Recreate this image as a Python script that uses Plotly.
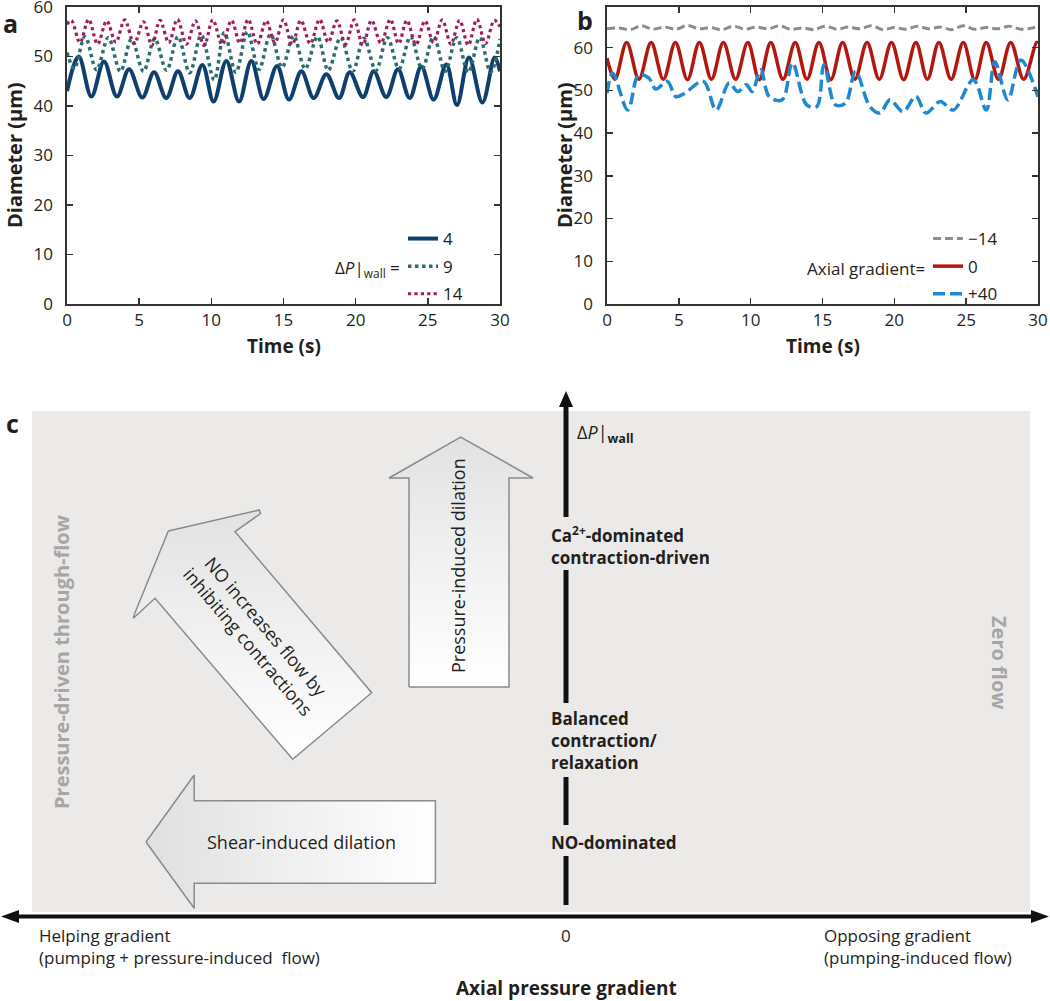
import plotly.graph_objects as go

W, H = 1050, 1001
FONT = "Open Sans"
TXT = "#231F20"

# ---------------- Panel a data (time s, diameter um) ----------------
a4_t = [0, 0.81, 1.69, 2.56, 3.46, 4.30, 5.22, 6.03, 6.88, 7.69, 8.50, 9.38, 10.16, 11.04, 11.92,
        12.77, 13.63, 14.55, 15.38, 16.24, 17.09, 17.97, 18.85, 19.59, 20.51, 21.25, 22.12, 22.93,
        23.74, 24.55, 25.40, 26.28, 27.02, 27.85, 28.78, 29.63, 30]
a4_d = [43.0, 50.0, 41.9, 49.0, 41.9, 47.4, 41.7, 46.8, 41.6, 47.0, 41.6, 48.3, 40.9, 49.1, 40.9,
        49.1, 41.4, 48.1, 41.3, 47.0, 41.6, 46.4, 41.6, 46.8, 41.8, 47.0, 41.8, 47.4, 41.6, 48.0,
        41.3, 48.4, 40.2, 49.8, 40.7, 49.8, 47.0]

a9_t = [0, 0.5, 1.25, 2.05, 2.86, 3.7, 4.47, 5.3, 6.08, 6.9, 7.69, 8.5, 9.3, 10.2, 10.9, 11.7,
        12.5, 13.3, 14.1, 14.9, 15.7, 16.5, 17.35, 18.1, 18.96, 19.8, 20.57, 21.4, 22.2, 23.0,
        23.8, 24.6, 25.4, 26.2, 27.0, 27.8, 28.6, 29.35, 30]
a9_d = [50.8, 47.6, 54.0, 47.3, 53.8, 47.0, 53.5, 47.0, 53.6, 47.2, 54.0, 46.7, 54.3, 45.3, 54.8,
        46.8, 55.0, 47.4, 54.5, 47.8, 54.2, 47.5, 54.0, 47.2, 53.8, 47.0, 53.7, 47.2, 53.8, 47.5,
        54.0, 47.5, 54.0, 47.0, 53.8, 46.8, 53.8, 46.8, 53.5]

a14_t = [0, 0.3, 0.9, 1.5, 2.12, 2.75, 3.38, 4.0, 4.65, 5.3, 5.88, 6.45, 7.05, 7.65, 8.28, 8.9,
         9.5, 10.1, 10.75, 11.4, 11.98, 12.55, 13.18, 13.8, 14.4, 15.0, 15.6, 16.2, 16.85, 17.5,
         18.1, 18.7, 19.3, 19.9, 20.5, 21.1, 21.75, 22.4, 22.98, 23.55, 24.18, 24.8, 25.4, 26.0,
         26.6, 27.2, 27.8, 28.4, 29.0, 29.6, 30]
a14_d = [56.5, 57.3, 52.8, 57.5, 52.5, 57.2, 52.9, 57.4, 52.6, 57.0, 52.3, 57.3, 52.8, 57.5, 52.5,
         57.2, 52.2, 57.4, 52.4, 57.3, 52.7, 57.5, 52.5, 57.2, 52.8, 57.4, 52.4, 57.3, 52.6, 57.5,
         52.9, 57.2, 52.5, 57.4, 52.3, 57.3, 52.7, 57.5, 52.6, 57.3, 52.4, 57.2, 52.8, 57.4, 52.5,
         57.3, 52.3, 57.5, 52.6, 57.3, 56.0]

# ---------------- Panel b data ----------------
bm14_t = [0, 0.8, 1.6, 2.4, 3.2, 4.0, 4.8, 5.6, 6.4, 7.2, 8.0, 8.8, 9.6, 10.4, 11.2, 12.0, 12.8,
          13.6, 14.4, 15.2, 16.0, 16.8, 17.6, 18.4, 19.2, 20.0, 20.8, 21.6, 22.4, 23.2, 24.0,
          24.8, 25.6, 26.4, 27.2, 28.0, 28.8, 29.6, 30]
bm14_d = [64.4, 64.6, 64.2, 65.1, 64.3, 64.8, 64.3, 65.2, 64.4, 64.7, 64.2, 65.0, 64.3, 64.8, 64.4,
          65.1, 64.3, 64.6, 64.2, 65.0, 64.3, 64.8, 64.4, 65.1, 64.2, 64.7, 64.3, 65.0, 64.4, 64.8,
          64.2, 65.1, 64.3, 64.7, 64.4, 65.0, 64.3, 64.6, 65.0]

b0_t = [0, 0.55, 1.37, 2.22, 3.07, 3.92, 4.76, 5.6, 6.43, 7.27, 8.1, 8.95, 9.8, 10.6, 11.4, 12.25,
        13.1, 13.92, 14.75, 15.58, 16.4, 17.25, 18.1, 18.95, 19.8, 20.65, 21.5, 22.3, 23.1, 23.95,
        24.8, 25.6, 26.4, 27.25, 28.1, 29.0, 29.9, 30]
b0_d = [57.5, 52.6, 61.2, 52.6, 61.2, 52.6, 61.2, 52.5, 61.2, 52.6, 61.2, 52.6, 61.2, 52.5, 61.2,
        52.6, 61.2, 52.6, 61.2, 52.5, 61.2, 52.6, 61.2, 52.6, 61.2, 52.5, 61.2, 52.6, 61.2, 52.6,
        61.2, 52.5, 61.2, 52.6, 61.2, 52.6, 61.2, 61.0]

b40_t = [0, 0.4, 1.45, 2.2, 2.9, 3.4, 4.2, 4.8, 5.4, 6.7, 7.6, 8.5, 9.1, 9.7, 10.1, 10.7, 11.3,
         12.2, 12.9, 13.9, 14.6, 15.1, 15.9, 16.6, 17.3, 18.3, 19.0, 19.7, 20.6, 21.5, 22.2, 23.2,
         24.1, 25.5, 26.4, 27.0, 27.9, 28.8, 30]
b40_d = [49.3, 54.0, 45.4, 53.6, 52.9, 50.3, 52.1, 48.5, 49.3, 52.1, 45.4, 51.7, 49.7, 51.3, 49.7,
         54.8, 48.5, 47.8, 56.4, 46.6, 46.2, 56.0, 46.6, 47.0, 54.4, 46.2, 44.7, 47.8, 45.0, 48.6,
         44.7, 47.4, 45.4, 52.5, 45.4, 56.7, 47.8, 57.1, 48.5]

x_ticks = [0, 5, 10, 15, 20, 25, 30]
y_ticks = [0, 10, 20, 30, 40, 50, 60]

fig = go.Figure()


def series(t, d, name, color, width, dash, xa, ya, legend, group):
    fig.add_trace(go.Scatter(
        x=t, y=d, name=name, mode="lines",
        line=dict(color=color, width=width, dash=dash, shape="spline", smoothing=1.0),
        xaxis=xa, yaxis=ya, legend=legend, legendgroup=group, hoverinfo="skip"))


series(a4_t, a4_d, "4", "#0E3F6E", 4, "solid", "x", "y", "legend", "a1")
series(a9_t, a9_d, "9", "#2C6D6D", 3.5, "dot", "x", "y", "legend", "a2")
series(a14_t, a14_d, "14", "#A31C5E", 3.2, "dot", "x", "y", "legend", "a3")

series(bm14_t, bm14_d, "\u221214", "#8C8C8C", 3, "8px,4px", "x2", "y2", "legend2", "b1")
series(b0_t, b0_d, "0", "#B5170F", 3.5, "solid", "x2", "y2", "legend2", "b2")
series(b40_t, b40_d, "+40", "#1E88D0", 3.5, "12px,5px", "x2", "y2", "legend2", "b3")

# ---------------- Panel c schematic (pixel coordinates on a hidden overlay axis) ----------------
def arrow_poly(xs, ys, grad):
    fig.add_trace(go.Scatter(
        x=xs, y=ys, mode="lines", fill="toself", fillgradient=grad,
        line=dict(color="#8A8A8A", width=1.5), xaxis="x3", yaxis="y3",
        showlegend=False, hoverinfo="skip"))


arrow_poly([409, 409, 389, 460.7, 533, 509, 509, 409],
           [687, 478, 478, 437, 478, 478, 687, 687],
           dict(type="vertical", colorscale=[[0, "#E2E2E2"], [1, "#FFFFFF"]], start=437, stop=687))
arrow_poly([168.3, 259.3, 260.5, 235, 371.7, 292.7, 155, 133.3, 134.5, 168.3],
           [531, 510, 513.5, 531.7, 692.7, 759.3, 598.3, 618.3, 614, 531],
           dict(type="vertical", colorscale=[[0, "#E2E2E2"], [1, "#FFFFFF"]], start=510, stop=759))
arrow_poly([146, 194.2, 194.2, 435.4, 435.4, 194.2, 194.2, 146],
           [842, 775, 800.7, 800.7, 883.3, 883.3, 908.3, 842],
           dict(type="horizontal", colorscale=[[0, "#E0E0E0"], [1, "#FFFFFF"]], start=146, stop=435))

shapes = []
shapes.append(dict(type="rect", xref="x3", yref="y3", x0=32, x1=1030, y0=411, y1=912,
                   fillcolor="#EBEAE8", line=dict(width=0), layer="below"))
for y0, y1 in [(404, 517), (570, 703), (777, 825), (856, 905)]:
    shapes.append(dict(type="line", xref="x3", yref="y3", x0=566, x1=566, y0=y0, y1=y1,
                       line=dict(color="#111111", width=5)))
shapes.append(dict(type="path", xref="x3", yref="y3", path="M 559,407 L 566,391 L 573,407 Z",
                   fillcolor="#111111", line=dict(width=0)))
shapes.append(dict(type="line", xref="x3", yref="y3", x0=14, x1=1036, y0=916.5, y1=916.5,
                   line=dict(color="#111111", width=4)))
shapes.append(dict(type="path", xref="x3", yref="y3", path="M 1,916.5 L 19,910 L 19,923 Z",
                   fillcolor="#111111", line=dict(width=0)))
shapes.append(dict(type="path", xref="x3", yref="y3", path="M 1049,916.5 L 1031,910 L 1031,923 Z",
                   fillcolor="#111111", line=dict(width=0)))

ann = []


def note(x, y, text, size=17, color=TXT, xanchor="center", angle=0, align="left", bold=False):
    ann.append(dict(x=x, y=y, xref="x3", yref="y3", text=("<b>%s</b>" % text) if bold else text,
                    showarrow=False, xanchor=xanchor, yanchor="middle", textangle=angle,
                    align=align, font=dict(family=FONT, size=size, color=color)))


note(10, 23, "a", size=25, bold=True)
note(585, 20, "b", size=25, bold=True)
note(12, 423, "c", size=25, bold=True)

note(14, 155, "Diameter (\u03bcm)", size=20, angle=-90, bold=True)
note(564, 155, "Diameter (\u03bcm)", size=20, angle=-90, bold=True)
note(283.5, 346, "Time (s)", size=19, bold=True)
note(822.5, 346, "Time (s)", size=19, bold=True)
note(402, 268, "\u0394<i>P</i>|<sub>wall</sub> =", size=17, xanchor="right")
note(927, 268, "Axial gradient=", size=17, xanchor="right")

note(575, 433, "\u0394<i>P</i>|<sub><b>wall</b></sub>", size=18, xanchor="left")
note(549, 545, "<b>Ca<sup>2+</sup>-dominated<br>contraction-driven</b>", size=17, xanchor="left")
note(549, 740, "<b>Balanced<br>contraction/<br>relaxation</b>", size=17, xanchor="left")
note(549, 842, "NO-dominated", size=17, xanchor="left", bold=True)

note(458, 566, "Pressure-induced dilation", size=18, angle=-90)
note(257, 633, "NO increases flow by<br>inhibiting contractions", size=18, angle=49.6, align="center")
note(301, 842, "Shear-induced dilation", size=18)
note(61, 662, "Pressure-driven through-flow", size=20, color="#A6A6A6", angle=-90, bold=True)
note(1000, 662, "Zero flow", size=20, color="#A6A6A6", angle=90, bold=True)

note(37, 946, "Helping gradient<br>(pumping + pressure-induced  flow)", size=17, xanchor="left")
note(566, 935, "0", size=17)
note(822, 946, "Opposing gradient<br>(pumping-induced flow)", size=17, xanchor="left")
note(566, 988, "Axial pressure gradient", size=19, bold=True)

axis_common = dict(showline=True, linecolor="#333333", linewidth=1.6, mirror="ticks",
                   ticks="inside", ticklen=6, tickwidth=1.5, tickcolor="#333333",
                   showgrid=False, zeroline=False, fixedrange=True, ticklabeloverflow="allow",
                   tickfont=dict(family=FONT, size=17, color=TXT))

legend_common = dict(xanchor="left", yanchor="top", bgcolor="rgba(0,0,0,0)",
                     font=dict(family=FONT, size=17, color=TXT), tracegroupgap=2.5,
                     traceorder="grouped")

fig.update_layout(
    width=W, height=H, margin=dict(l=0, r=0, t=0, b=0, autoexpand=False),
    paper_bgcolor="white", plot_bgcolor="rgba(0,0,0,0)",
    hovermode=False, font=dict(family=FONT, color=TXT),
    xaxis=dict(domain=[67 / W, 500 / W], anchor="y", range=[0, 30], tickvals=x_ticks,
               ticklabelstandoff=0, **axis_common),
    yaxis=dict(domain=[1 - 304 / H, 1 - 7 / H], anchor="x", range=[0, 60], tickvals=y_ticks,
               ticklabelstandoff=9, **axis_common),
    xaxis2=dict(domain=[607 / W, 1038 / W], anchor="y2", range=[0, 30], tickvals=x_ticks,
                ticklabelstandoff=0, **axis_common),
    yaxis2=dict(domain=[1 - 304 / H, 1 - 7 / H], anchor="x2", range=[0, 69.5], tickvals=y_ticks,
                ticklabelstandoff=9, **axis_common),
    xaxis3=dict(domain=[0, 1], anchor="y3", range=[0, W], visible=False, fixedrange=True),
    yaxis3=dict(domain=[0, 1], anchor="x3", range=[H, 0], visible=False, fixedrange=True),
    legend=dict(x=403 / W, y=1 - 221 / H, **legend_common),
    legend2=dict(x=928 / W, y=1 - 221 / H, **legend_common),
    shapes=shapes, annotations=ann,
)

fig.write_html(
    "out.html",
    config={"displayModeBar": False, "staticPlot": True},
    post_script=("document.documentElement.style.overflow='hidden';"
                 "document.body.style.margin='0';document.body.style.overflow='hidden';"
                 "var d=document.getElementById('{plot_id}');"
                 "d.style.position='absolute';d.style.left='0px';d.style.top='0px';"),
)
